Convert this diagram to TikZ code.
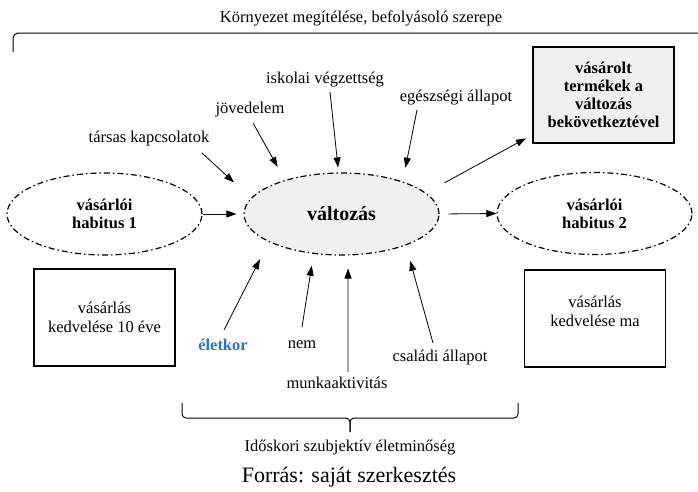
\documentclass[tikz,border=0pt]{standalone}
\usepackage{fontspec}
\setmainfont{Liberation Serif}
\usepackage{tikz}
\usetikzlibrary{shapes, arrows.meta, positioning}
\definecolor{korkek}{RGB}{46,117,182}
\tikzstyle{habitus} = [draw, ellipse, line width=1.2pt,
    dash pattern=on 6pt off 3pt on 1.5pt off 3pt,
    minimum width=195pt, minimum height=82pt, align=center,
    font=\fontsize{16.5}{18}\selectfont\bfseries]
\tikzstyle{kedvbox} = [draw, rectangle, line width=1.2pt,
    minimum width=141pt, minimum height=97pt, align=center,
    font=\fontsize{16.5}{19}\selectfont]
\tikzstyle{tenyezo} = [inner sep=1pt, font=\fontsize{16.5}{19}\selectfont]
\tikzstyle{pil} = [-{Triangle[length=10pt,width=7pt]}, line width=0.8pt]

\begin{document}
\begin{tikzpicture}[x=1pt, y=-1pt]
        \useasboundingbox (0,0) rectangle (698,491);
        % kornyezet
        \node[tenyezo, name=kornyezet] at (361,18) (kornyezet) {Környezet megítélése, befolyásoló szerepe};
        \draw[line width=1pt, rounded corners=5pt] (13,52) -- (13,33) -- (698,33);

        \node[habitus, name=habitus1] at (104.5,214) (habitus1) {vásárlói\\habitus 1};
        \node[habitus, name=valtozas, fill=black!6, font=\fontsize{20}{22}\selectfont\bfseries] at (341.5,214) (valtozas) {változás};
        \node[habitus, name=habitus2] at (594.5,213.5) (habitus2) {vásárlói\\habitus 2};
        \node[kedvbox, name=vasarolt, fill=black!6, line width=1.8pt, minimum height=96pt,
            font=\fontsize{16.5}{18}\selectfont\bfseries] at (603.5,95) (vasarolt) {vásárolt\\termékek a\\változás\\bekövetkeztével};
        \node[kedvbox, name=kedv10] at (104.5,317.5) (kedv10) {vásárlás\\kedvelése 10 éve};
        \node[kedvbox, name=kedvma, text depth=14pt] at (595,318.5) (kedvma) {vásárlás\\kedvelése ma};

        % tenyezok
        \node[tenyezo, name=iskola] at (325,80) (iskola) {iskolai végzettség};
        \node[tenyezo, name=egeszseg] at (456,98) (egeszseg) {egészségi állapot};
        \node[tenyezo, name=jovedelem] at (250,110) (jovedelem) {jövedelem};
        \node[tenyezo, name=tarsas] at (149,139) (tarsas) {társas kapcsolatok};
        \node[tenyezo, name=eletkor, text=korkek, font=\fontsize{16.5}{19}\selectfont\bfseries] at (223,345) (eletkor) {életkor};
        \node[tenyezo, name=nem] at (302,345) (nem) {nem};
        \node[tenyezo, name=munka] at (337,383) (munka) {munkaaktivitás};
        \node[tenyezo, name=csalad] at (440,358) (csalad) {családi állapot};

        \coordinate (tarsasV) at (202,153);
        \coordinate (jovedelemV) at (253,123);
        \coordinate (iskolaV) at (330,92);
        \coordinate (egeszsegV) at (417,110);
        \coordinate (eletkorV) at (224,330);
        \coordinate (nemV) at (302,327);
        \coordinate (munkaV) at (348,372);
        \coordinate (csaladV) at (433,343);

        \draw[pil, shorten >=23pt] (tarsasV) -- (valtozas.170);
        \draw[pil, shorten >=15pt] (jovedelemV) -- (valtozas.149.5);
        \draw[pil, shorten >=5pt] (iskolaV) -- (valtozas.94);
        \draw[pil, shorten >=14pt] (egeszsegV) -- (valtozas.28);
        \draw[pil, shorten >=19.5pt] (eletkorV) -- (valtozas.201.6);
        \draw[pil, shorten >=12pt] (nemV) -- (valtozas.235);
        \draw[pil, shorten >=13pt] (munkaV) -- (valtozas.279);
        \draw[pil, shorten >=16pt] (csaladV) -- (valtozas.334.6);

        \draw[pil, shorten >=7pt] (habitus1.east) -- (valtozas.west);
        \draw[pil, shorten <=9pt] (valtozas.east) -- (habitus2.west);
        \draw[pil, shorten <=21pt, shorten >=7pt] (valtozas.14) -- ([yshift=9pt]vasarolt.south west);

        % also zarojel
        \draw[line width=1pt, rounded corners=4pt] (182,403) -- (182,418) -- (350,418) -- (350,432);
        \draw[line width=1pt, rounded corners=4pt] (518,403) -- (518,418) -- (350,418) -- (350,432);
        \node[tenyezo, name=idoskori] at (350,448) (idoskori) {Időskori szubjektív életminőség};
        \node[tenyezo, name=forras, font=\fontsize{22}{24}\selectfont] at (349,477) (forras) {Forrás: saját szerkesztés};
\end{tikzpicture}
\end{document}
